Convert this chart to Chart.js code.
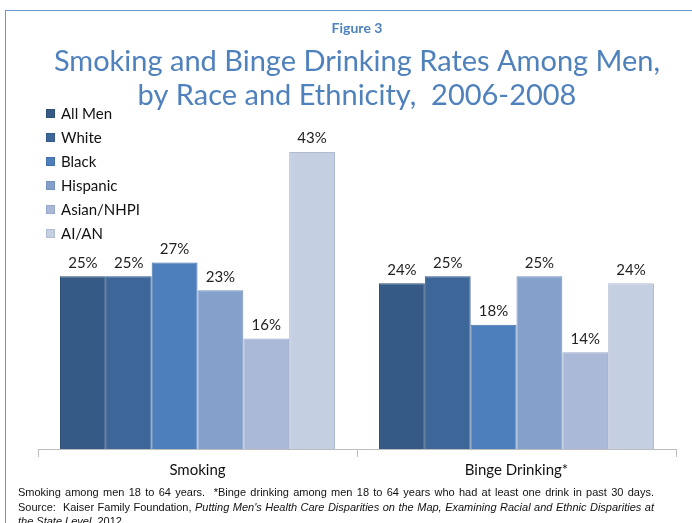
<!DOCTYPE html>
<html lang="en">
<head>
    <meta charset="UTF-8">
    <title>Smoking and Binge Drinking Rates Among Men</title>
    <script src="https://cdn.jsdelivr.net/npm/chart.js"></script>
    <style>
        body { margin: 0; background: #fff; }
        .wrap { position: relative; width: 692px; height: 523px; overflow: hidden; }
        .frame { position: absolute; left: 5px; top: 10px; width: 720px; height: 600px; border: 1px solid #6C95CC; }
        canvas { position: absolute; left: 0; top: 0; }
        .note {
            position: absolute; left: 18px; top: 485px; width: 636px;
            font: 11px "Liberation Sans", Arial, sans-serif; line-height: 14.5px;
            color: #111; text-align: justify;
        }
    </style>
</head>
<body>
<div class="wrap">
    <div class="frame"></div>
    <canvas id="myChart" width="692" height="523"></canvas>
    <div class="note">
        Smoking among men 18 to 64 years. &nbsp;*Binge drinking among men 18 to 64 years who had at least one drink in past 30 days.
        Source: &nbsp;Kaiser Family Foundation, <i>Putting Men's Health Care Disparities on the Map, Examining Racial and Ethnic Disparities at the State Level</i>, 2012
    </div>
</div>

<script>
const categorias = ['Smoking', 'Binge Drinking*'];
const grupos = ['All Men', 'White', 'Black', 'Hispanic', 'Asian/NHPI', 'AI/AN'];
const allMen = [25, 24];
const white = [25, 25];
const black = [27, 18];
const hispanic = [23, 25];
const asian = [16, 14];
const aian = [43, 24];

const cores = ['#355A86', '#3D6699', '#4C7FBC', '#84A1CB', '#AAB9D7', '#C5CFE2'];
const bordas = ['#2E4F76', '#355A88', '#4270A8', '#7490BD', '#98A8CA', '#AFBCD4'];
const valores = [allMen, white, black, hispanic, asian, aian];

// rotulos em cima das barras
const rotulos = {
    id: 'rotulos',
    afterDatasetsDraw(chart) {
        const ctx = chart.ctx;
        ctx.save();
        ctx.font = '15px Lato';
        ctx.fillStyle = '#222';
        ctx.textAlign = 'center';
        ctx.textBaseline = 'bottom';
        chart.data.datasets.forEach((ds, i) => {
            chart.getDatasetMeta(i).data.forEach((bar, j) => {
                ctx.fillText(ds.data[j] + '%', bar.x, bar.y - 6);
            });
        });
        ctx.restore();
    }
};

// legenda dentro do grafico, canto superior esquerdo
const legendaDentro = {
    id: 'legendaDentro',
    afterDraw(chart) {
        const ctx = chart.ctx;
        ctx.save();
        ctx.font = '15px Lato';
        ctx.textBaseline = 'middle';
        chart.data.datasets.forEach((ds, i) => {
            const y = 114 + i * 24;
            ctx.fillStyle = ds.backgroundColor;
            ctx.fillRect(46, y - 5, 9, 9);
            ctx.strokeStyle = ds.borderColor;
            ctx.lineWidth = 1;
            ctx.strokeRect(46.5, y - 4.5, 8, 8);
            ctx.fillStyle = '#111';
            ctx.fillText(ds.label, 61, y);
        });
        ctx.restore();
    }
};

const ctx = document.getElementById('myChart').getContext('2d');
new Chart(ctx, {
    type: 'bar',
    data: {
        labels: categorias,
        datasets: grupos.map((g, i) => ({
            label: g,
            data: valores[i],
            backgroundColor: cores[i],
            borderColor: bordas[i],
            borderWidth: 1,
            categoryPercentage: 0.862,
            barPercentage: 1
        }))
    },
    options: {
        responsive: false,
        animation: false,
        layout: { padding: { left: 38, right: 16, bottom: 40 } },
        plugins: {
            legend: { display: false },
            tooltip: { enabled: false },
            title: {
                display: true,
                text: 'Figure 3',
                color: '#4F81BD',
                font: { family: 'Lato', size: 14, weight: 'bold' },
                padding: { top: 20, bottom: 7 }
            },
            subtitle: {
                display: true,
                text: ['Smoking and Binge Drinking Rates Among Men,', 'by Race and Ethnicity,  2006-2008'],
                color: '#4F81BD',
                font: { family: 'Lato', size: 29 },
                padding: { bottom: 0 }
            }
        },
        scales: {
            x: {
                grid: { offset: true, drawOnChartArea: false, color: '#BDBDBD', tickLength: 8 },
                border: { display: true, color: '#BDBDBD' },
                ticks: { color: '#111', font: { family: 'Lato', size: 15 }, padding: 4 }
            },
            y: {
                display: false,
                min: 0,
                max: 48.6
            }
        }
    },
    plugins: [rotulos, legendaDentro]
});
</script>
</body>
</html>
